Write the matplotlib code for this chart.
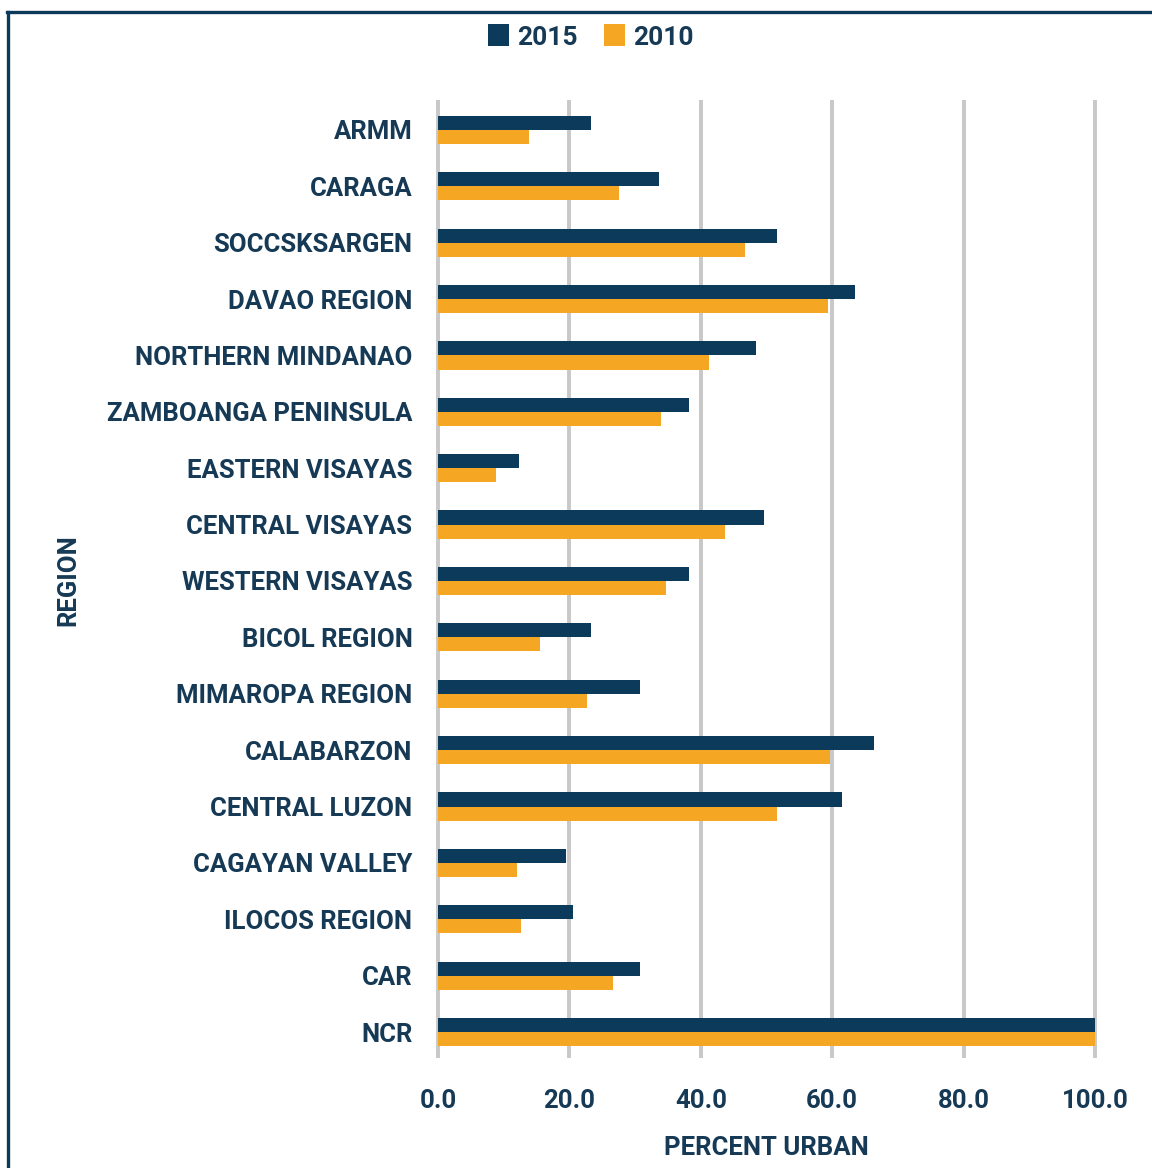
import numpy as np
import matplotlib
matplotlib.use('Agg')
import matplotlib.pyplot as plt
from matplotlib.lines import Line2D

# ------------------------
# data
# ------------------------
regions = ['ARMM', 'CARAGA', 'SOCCSKSARGEN', 'DAVAO REGION', 'NORTHERN MINDANAO',
           'ZAMBOANGA PENINSULA', 'EASTERN VISAYAS', 'CENTRAL VISAYAS',
           'WESTERN VISAYAS', 'BICOL REGION', 'MIMAROPA REGION', 'CALABARZON',
           'CENTRAL LUZON', 'CAGAYAN VALLEY', 'ILOCOS REGION', 'CAR', 'NCR']
urban_2015 = [23.3, 33.6, 51.6, 63.5, 48.4, 38.2, 12.3, 49.6, 38.2, 23.3,
              30.7, 66.4, 61.5, 19.5, 20.6, 30.7, 100.0]
urban_2010 = [13.9, 27.6, 46.7, 59.3, 41.3, 34.0, 8.9, 43.7, 34.7, 15.6,
              22.7, 59.6, 51.6, 12.0, 12.7, 26.6, 100.0]
xticks = [0, 20, 40, 60, 80, 100]

navy = '#0b3a5a'
orange = '#f5a623'
txt = '#163a55'
font = 'Roboto'

fig = plt.figure(figsize=(11.52, 11.68), dpi=100)
W, H = 1152.0, 1168.0
ax = fig.add_axes([434.7 / W, 1 - 1058 / H, (1098.3 - 434.7) / W, (1058 - 100) / H])

y = np.arange(len(regions))
h = 0.25
ax.barh(y - h / 2, urban_2015, height=h, color=navy, zorder=3, label='2015')
ax.barh(y + h / 2, urban_2010, height=h, color=orange, zorder=3, label='2010')

ax.set_xlim(-0.5, 100.5)
ax.set_ylim(16.46, -0.53)
ax.set_xticks(xticks)
ax.set_xticklabels(['%.1f' % v for v in xticks])
ax.set_yticks(y)
ax.set_yticklabels(regions)
ax.grid(axis='x', color='#c8c8c8', linewidth=2.8, zorder=0)
ax.set_axisbelow(True)
for s in ax.spines.values():
    s.set_visible(False)
ax.tick_params(axis='both', length=0, colors=txt)
ax.tick_params(axis='y', pad=16)
ax.tick_params(axis='x', pad=22)
for lab in ax.get_yticklabels() + ax.get_xticklabels():
    lab.set_fontfamily(font)
    lab.set_fontweight('bold')
    lab.set_fontsize(18.5)
    lab.set_color(txt)

ax.set_xlabel('PERCENT URBAN', fontfamily=font, fontweight='bold',
              fontsize=18.5, color=txt, labelpad=17)
fig.text(68 / W, 1 - 580 / H, 'REGION', rotation=90, ha='center', va='center',
         fontfamily=font, fontweight='bold', fontsize=18.5, color=txt)

leg = fig.legend(loc='center', bbox_to_anchor=(591 / W, 1 - 37 / H), ncol=2,
                 frameon=False, handlelength=0.8, handleheight=0.9,
                 handletextpad=0.3, columnspacing=1.0,
                 prop={'family': font, 'weight': 'bold', 'size': 19})
for t in leg.get_texts():
    t.set_color(txt)

# frame lines (top and left only)
fig.add_artist(Line2D([7 / W, 1.0], [1 - 11.5 / H, 1 - 11.5 / H],
                      transform=fig.transFigure, color=navy, linewidth=2.4))
fig.add_artist(Line2D([8 / W, 8 / W], [0.0, 1 - 11.5 / H],
                      transform=fig.transFigure, color=navy, linewidth=2.4))

fig.savefig('out.png', dpi=100)
